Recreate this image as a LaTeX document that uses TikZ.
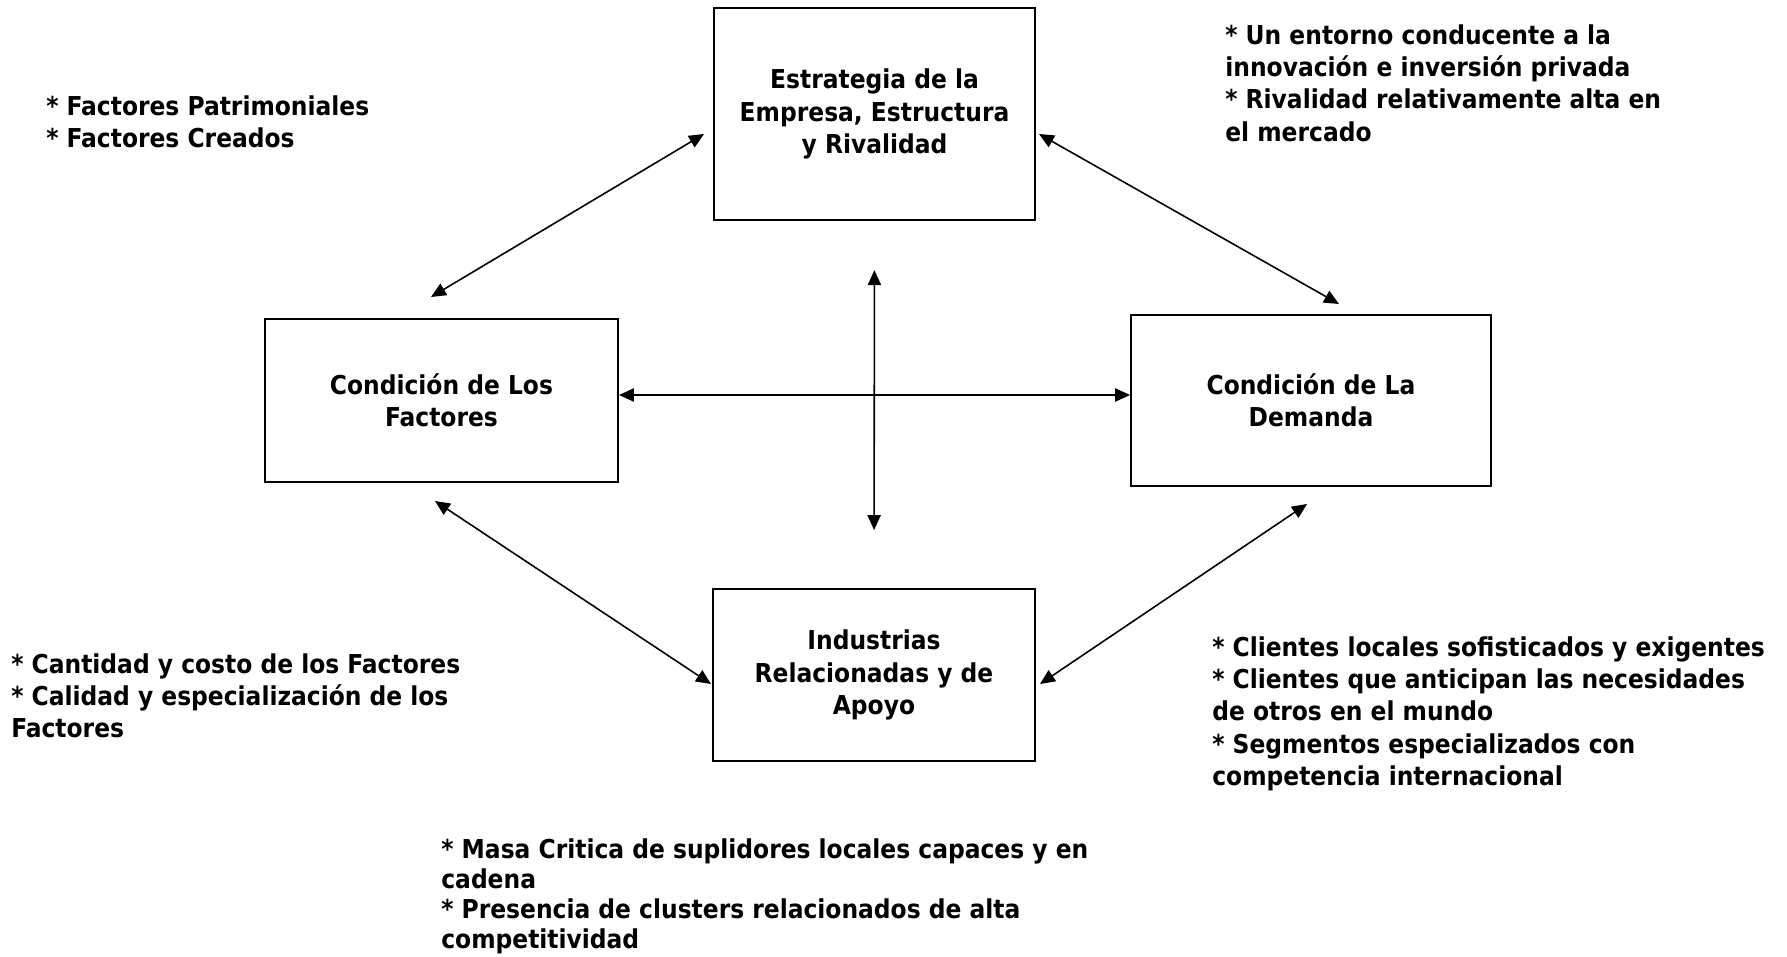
\documentclass[tikz,border=0pt]{standalone}
\usepackage{fontspec}
\setmainfont{DejaVu Sans Condensed}
\usetikzlibrary{arrows.meta}

\begin{document}
\begin{tikzpicture}[x=0.02cm,y=-0.02cm,line cap=round,
    font=\bfseries\fontsize{14.8}{18.4}\selectfont,
    block/.style={draw,line width=1.1pt,align=center,inner sep=0pt},
    link/.style={{Triangle[length=8.5pt,width=7.5pt]}-{Triangle[length=8.5pt,width=7.5pt]},line width=0.9pt},
    note/.style={anchor=north west,align=left,inner sep=0pt}]
  \useasboundingbox (0,0) rectangle (1787,956);

  % the four boxes of the diamond
  \node[block,minimum width=6.42cm,minimum height=4.24cm] (estr) at (874.5,114)
    {Estrategia de la\\Empresa, Estructura\\y Rivalidad};
  \node[block,minimum width=7.06cm,minimum height=3.26cm] (fact) at (441.5,400.5)
    {Condición de Los\\Factores};
  \node[block,minimum width=7.2cm,minimum height=3.42cm] (dem) at (1311,400.5)
    {Condición de La\\Demanda};
  \node[block,minimum width=6.44cm,minimum height=3.44cm] (ind) at (874,675)
    {Industrias\\Relacionadas y de\\Apoyo};

  % free ends of the diagonal arrows
  \coordinate (estrW) at (704,134);
  \coordinate (estrE) at (1039,134);
  \coordinate (factN) at (431,297);
  \coordinate (factS) at (435,501);
  \coordinate (demN)  at (1339,304);
  \coordinate (demS)  at (1307,504);
  \coordinate (indW)  at (711,684);
  \coordinate (indE)  at (1040,684);

  % arrows
  \draw[link] (factN) -- (estrW);
  \draw[link] (estrE) -- (demN);
  \draw[link] (factS) -- (indW);
  \draw[link] (demS) -- (indE);
  \draw[link] (fact.east |- 0,395) -- (dem.west |- 0,395);
  \draw[link,shorten <=28pt,shorten >=33pt] (estr.south) -- (ind.north);

  % side notes
  \node[note] (nfact) at (46,95) {* Factores Patrimoniales\\* Factores Creados};
  \node[note] (nestr) at (1225,24) {* Un entorno conducente a la\\innovación e inversión privada\\
    * Rivalidad relativamente alta en\\el mercado};
  \node[note] (nfact2) at (11,653) {* Cantidad y costo de los Factores\\
    * Calidad y especialización de los\\Factores};
  \node[note] (ndem) at (1212,636) {* Clientes locales sofisticados y exigentes\\
    * Clientes que anticipan las necesidades\\de otros en el mundo\\
    * Segmentos especializados con\\competencia internacional};
  \node[note,font=\bfseries\fontsize{14.8}{17.2}\selectfont] (nind) at (441,838)
    {* Masa Critica de suplidores locales capaces y en\\cadena\\
    * Presencia de clusters relacionados de alta\\competitividad};
\end{tikzpicture}
\end{document}
